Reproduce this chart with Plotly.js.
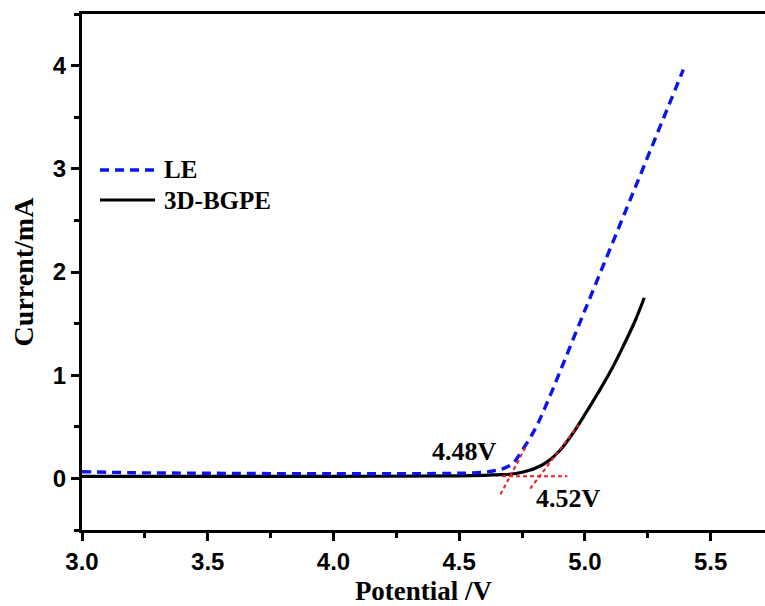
<!DOCTYPE html>
<html>
<head>
<meta charset="utf-8">
<script src="https://cdn.plot.ly/plotly-3.0.1.min.js"></script>
<style>html,body{margin:0;padding:0;background:#fff;}#chart{width:765px;height:606px;}</style>
</head>
<body>
<div id="chart"></div>
<script>
// Data
const leX = [3.0, 3.2, 3.5, 4.0, 4.5, 4.6, 4.65, 4.68, 4.715, 4.75, 4.8, 4.842, 5.0, 5.2, 5.391];
const leY = [0.065, 0.055, 0.05, 0.045, 0.05, 0.06, 0.08, 0.10, 0.15, 0.27, 0.47, 0.69, 1.63, 2.82, 3.96];
const gpeX = [3.0, 3.5, 4.0, 4.5, 4.6, 4.65, 4.7, 4.75, 4.8, 4.85, 4.9, 4.95, 5.0, 5.05, 5.1, 5.15, 5.2, 5.236];
const gpeY = [0.02, 0.02, 0.02, 0.025, 0.03, 0.035, 0.04, 0.06, 0.095, 0.16, 0.27, 0.43, 0.62, 0.82, 1.03, 1.27, 1.53, 1.75];
// Red tangent guide lines
const baseX = [4.67, 4.93];
const baseY = [0.02, 0.02];
const tanLeX = [4.664, 4.77];
const tanLeY = [-0.155, 0.33];
const tanGpeX = [4.782, 4.975];
const tanGpeY = [-0.10, 0.52];
const annText = ['4.48V', '4.52V'];
const annX = [4.52, 4.934];
const annY = [0.26, -0.195];
const seriesNames = ['LE', '3D-BGPE'];

const serif = 'Liberation Serif, Times New Roman, serif';
const blueLine = {color: '#0a14f0', width: 3.4, dash: '9px,6px'};
const blackLine = {color: '#000', width: 3.2};
const red = {color: 'rgb(240,30,30)', width: 2, dash: '4px,3px'};

const traces = [
  {x: gpeX, y: gpeY, mode: 'lines', name: seriesNames[1], line: Object.assign({shape: 'spline'}, blackLine), showlegend: false},
  {x: leX, y: leY, mode: 'lines', name: seriesNames[0], line: Object.assign({shape: 'spline'}, blueLine), showlegend: false},
  {x: baseX, y: baseY, mode: 'lines', line: red, showlegend: false, hoverinfo: 'skip'},
  {x: tanLeX, y: tanLeY, mode: 'lines', line: red, showlegend: false, hoverinfo: 'skip'},
  {x: tanGpeX, y: tanGpeY, mode: 'lines', line: red, showlegend: false, hoverinfo: 'skip'}
];

const tickFont = {family: 'Liberation Sans, Arial, sans-serif', size: 24, color: '#000', weight: 'bold'};
const titleFont = {family: serif, size: 27, color: '#000', weight: 'bold'};

// Hand-made legend (longer line samples, as in the reference)
const legendRows = [
  {name: seriesNames[0], line: blueLine, y: 0.6977},
  {name: seriesNames[1], line: blackLine, y: 0.6395}
];
const legendShapes = legendRows.map(r => ({
  type: 'line', xref: 'paper', yref: 'paper', x0: 0.0264, x1: 0.1069, y0: r.y, y1: r.y,
  line: r.line
}));
const legendAnns = legendRows.map(r => ({
  xref: 'paper', yref: 'paper', x: 0.117, y: r.y, xanchor: 'left', yanchor: 'middle',
  text: r.name, showarrow: false,
  font: {family: serif, size: 25, color: '#000', weight: 'bold'}
}));

const layout = {
  width: 765, height: 606,
  margin: {l: 82, r: 0, t: 14, b: 76},
  paper_bgcolor: '#fff', plot_bgcolor: '#fff',
  showlegend: false,
  xaxis: {
    range: [3.0, 5.716], dtick: 0.5, tick0: 3, tickformat: '.1f',
    showline: true, linewidth: 3, linecolor: '#000', mirror: true,
    ticks: 'outside', ticklen: 8, tickwidth: 3, tickcolor: '#000',
    minor: {dtick: 0.25, ticks: 'outside', ticklen: 5, tickwidth: 3, tickcolor: '#000'},
    showgrid: false, zeroline: false,
    tickfont: tickFont,
    title: {text: 'Potential /V', font: titleFont, standoff: 10}
  },
  yaxis: {
    range: [-0.5, 4.5], dtick: 1, tick0: 0,
    showline: true, linewidth: 3, linecolor: '#000', mirror: false,
    ticks: 'outside', ticklen: 8, tickwidth: 3, tickcolor: '#000',
    minor: {dtick: 0.5, ticks: 'outside', ticklen: 5, tickwidth: 3, tickcolor: '#000'},
    showgrid: false, zeroline: false,
    tickfont: tickFont,
    title: {text: 'Current/mA', font: {family: serif, size: 28, color: '#000', weight: 'bold'}, standoff: 12}
  },
  shapes: legendShapes,
  annotations: annText.map((t, i) => ({
    x: annX[i], y: annY[i], xref: 'x', yref: 'y', text: t, showarrow: false,
    font: {family: serif, size: 26, color: '#000', weight: 'bold'}
  })).concat(legendAnns)
};

Plotly.newPlot('chart', traces, layout, {displayModeBar: false, staticPlot: true});
</script>
</body>
</html>
